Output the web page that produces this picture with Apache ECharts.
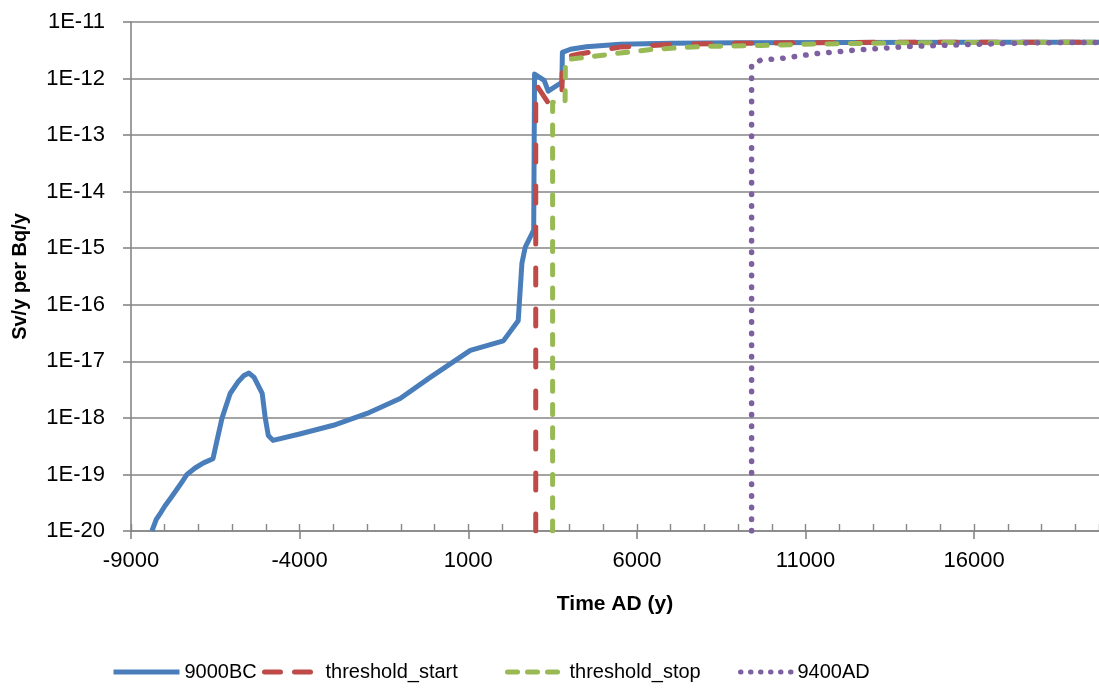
<!DOCTYPE html>
<html><head><meta charset="utf-8">
<script src="https://cdn.jsdelivr.net/npm/echarts@6/dist/echarts.min.js"></script>
<style>html,body{margin:0;padding:0;background:#fff}#c{width:1099px;height:691px}</style>
</head><body><div id="c"></div>
<script>
// ---- data ----
const seriesNames = ['9000BC', 'threshold_start', 'threshold_stop', '9400AD'];

const t9000BC = [-8380, -8250, -8120, -7990, -7800, -7550, -7340, -7100, -6850, -6570, -6450, -6300, -6060, -5830, -5650, -5500, -5350, -5110, -5020, -4930, -4790,
  -4000, -3000, -2000, -1020, -130, 1060, 2040, 2480, 2590, 2690, 2940, 2955, 2965, 3250, 3370, 3775, 3790,
  4030, 4500, 5500, 7000, 9000, 12000, 16000, 19700];
const v9000BC = [1e-20, 1.6e-20, 2.1e-20, 2.8e-20, 4e-20, 6.5e-20, 1e-19, 1.3e-19, 1.6e-19, 1.9e-19, 4e-19, 1e-18, 2.7e-18, 4.3e-18, 5.6e-18, 6.2e-18, 5.2e-18, 2.7e-18, 1e-18, 4.9e-19, 4e-19,
  5.2e-19, 7.4e-19, 1.2e-18, 2.2e-18, 5.2e-18, 1.56e-17, 2.3e-17, 5.2e-17, 5.4e-16, 1.05e-15, 2.1e-15, 1e-13, 1.2e-12, 9.3e-13, 6e-13, 8.6e-13, 2.9e-12,
  3.3e-12, 3.65e-12, 4.05e-12, 4.2e-12, 4.3e-12, 4.35e-12, 4.4e-12, 4.4e-12];

const tStart = [3000, 3000, 3360, 3775, 3790, 4250, 5500, 7000, 9000, 12000, 16000, 19700];
const vStart = [1e-20, 8e-13, 3.8e-13, 4.5e-13, 2.3e-12, 2.7e-12, 3.6e-12, 4e-12, 4.2e-12, 4.35e-12, 4.4e-12, 4.4e-12];

const tStop = [3500, 3500, 3870, 3880, 4030, 4530, 5330, 6500, 8000, 9700, 11000, 14000, 19700];
const vStop = [1e-20, 3.8e-13, 3.8e-13, 2.1e-12, 2.2e-12, 2.4e-12, 2.75e-12, 3.3e-12, 3.7e-12, 3.85e-12, 4.05e-12, 4.3e-12, 4.4e-12];

const t9400AD = [9400, 9400, 9660, 10350, 11000, 11350, 12500, 14050, 15800, 17770, 19700];
const v9400AD = [1e-20, 1.8e-12, 2.1e-12, 2.3e-12, 2.6e-12, 2.77e-12, 3.2e-12, 3.7e-12, 4e-12, 4.3e-12, 4.35e-12];

const xMin = -9000, xMax = 19700, xMajor = 5000, xMinor = 1000;
const yMin = 1e-20, yMax = 1e-11;

// ---- chart ----
const pairs = (t, v) => t.map((x, i) => [x, v[i]]);
const colors = ['#4A7EBB', '#BE4B48', '#98B954', '#7D60A0'];
const dashes = ['solid', [17, 24], [10, 13.3], [0.5, 11.1]];
const datasets = [pairs(t9000BC, v9000BC), pairs(tStart, vStart), pairs(tStop, vStop), pairs(t9400AD, v9400AD)];
const FONT = 'Liberation Sans';

// per-entry legend layout (Excel-like spacing)
const legendLeft = [111, 262, 505, 738];
const legendWidth = [66, 56, 57, 52];
const legendDash = ['solid', [16, 14], [10, 10], [0.5, 9.5]];

const chart = echarts.init(document.getElementById('c'), null, {renderer: 'canvas'});
chart.setOption({
  animation: false,
  backgroundColor: '#fff',
  textStyle: {fontFamily: FONT},
  grid: {left: 131, right: 0, top: 22, bottom: 160, outerBoundsMode: 'none', containLabel: false},
  legend: seriesNames.map((n, i) => ({
    data: [n], left: legendLeft[i], top: 662, padding: 0,
    itemWidth: legendWidth[i], itemHeight: 16, itemGap: 5,
    itemStyle: {opacity: 0, borderWidth: 0},
    lineStyle: {width: 5, type: legendDash[i], cap: i === 0 ? 'butt' : 'round', color: colors[i]},
    textStyle: {fontSize: 20, color: '#000', fontFamily: FONT}
  })),
  xAxis: [{
    type: 'value', min: xMin, max: xMax, interval: xMajor, position: 'bottom',
    name: 'Time AD (y)', nameLocation: 'middle', nameGap: 63,
    nameTextStyle: {fontSize: 21, fontWeight: 'bold', color: '#000', fontFamily: FONT},
    axisLine: {show: true, onZero: false, lineStyle: {color: '#868686', width: 1.6}},
    axisTick: {show: true, inside: false, length: 8, lineStyle: {color: '#868686', width: 1.6}},
    axisLabel: {fontSize: 22, color: '#000', margin: 19, showMaxLabel: false, fontFamily: FONT,
      formatter: v => String(v)},
    splitLine: {show: false}
  }, {
    type: 'value', min: xMin, max: xMax, interval: xMinor, position: 'bottom',
    axisLine: {show: false, onZero: false},
    axisTick: {show: true, inside: true, length: 7, lineStyle: {color: '#868686', width: 1.4}},
    axisLabel: {show: false},
    splitLine: {show: false}
  }],
  yAxis: {
    type: 'log', logBase: 10, min: yMin, max: yMax, interval: 1, splitNumber: 9,
    name: 'Sv/y per Bq/y', nameLocation: 'middle', nameGap: 101, nameRotate: 90,
    nameTextStyle: {fontSize: 20, fontWeight: 'bold', color: '#000', fontFamily: FONT},
    axisLine: {show: true, onZero: false, lineStyle: {color: '#868686', width: 1.6}},
    axisTick: {show: true, inside: false, length: 8, lineStyle: {color: '#868686', width: 1.6}},
    axisLabel: {fontSize: 22, color: '#000', margin: 26, fontFamily: FONT,
      formatter: v => '1E' + Math.round(Math.log10(v))},
    splitLine: {show: true, lineStyle: {color: '#868686', width: 1.6}}
  },
  series: seriesNames.map((n, i) => ({
    name: n, type: 'line', data: datasets[i], xAxisIndex: 0,
    showSymbol: false, symbol: 'none', smooth: false, clip: true,
    color: colors[i],
    lineStyle: {color: colors[i], width: i === 3 ? 5.5 : 5, type: dashes[i], cap: i === 0 ? 'butt' : 'round', join: 'round'},
    z: 2 + i
  }))
});
</script>
</body></html>
